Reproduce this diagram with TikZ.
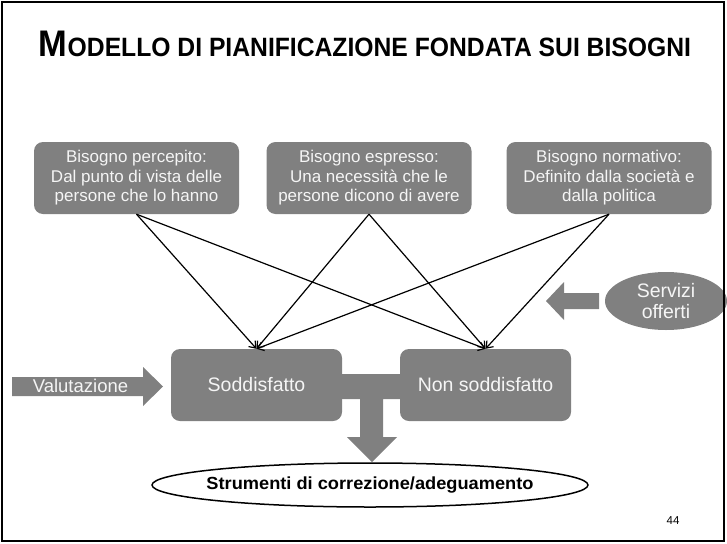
\documentclass[tikz,border=0pt]{standalone}
\usepackage{fontspec}
\setmainfont{Liberation Sans}
\usetikzlibrary{arrows.meta,shapes.geometric}
\definecolor{boxgray}{RGB}{128,128,128}
\definecolor{lighttext}{RGB}{245,245,245}
\tikzset{
  needbox/.style={fill=boxgray, rounded corners=9pt, minimum width=205pt, minimum height=72pt,
    text=lighttext, align=center, font=\fontsize{17}{19.5}\selectfont, inner sep=0pt},
  resbox/.style={fill=boxgray, rounded corners=9pt, minimum width=171pt, minimum height=72pt,
    text=lighttext, font=\fontsize{19.5}{19.5}\selectfont, inner sep=0pt},
  flow/.style={draw=black, line width=1.2pt, -{Straight Barb[length=6pt,width=9pt]}},
  wtext/.style={text=lighttext, font=\fontsize{17}{19.5}\selectfont, inner sep=0pt, align=center},
}
\begin{document}
\begin{tikzpicture}[x=1pt,y=-1pt]
\useasboundingbox (0,0) rectangle (727,543);
\fill[white] (0,0) rectangle (727,543);

\node[anchor=base, inner sep=0pt] (title) at (365,57)
  {\resizebox{652pt}{\height}{\bfseries{\fontsize{37}{37}\selectfont M}{\fontsize{26.5}{26.5}\selectfont ODELLO DI PIANIFICAZIONE FONDATA SUI BISOGNI}}};

\node[needbox] (b1) at (136.5,178) {Bisogno percepito:\\Dal punto di vista delle\\persone che lo hanno};
\node[needbox] (b2) at (369,178) {Bisogno espresso:\\Una necessità che le\\persone dicono di avere};
\node[needbox] (b3) at (609,178) {Bisogno normativo:\\Definito dalla società e\\dalla politica};

\node[resbox] (sod) at (256.5,385) {Soddisfatto};
\node[resbox] (non) at (485.5,385) {Non soddisfatto};

\foreach \s in {b1,b2,b3} {
  \draw[flow] (\s.south) -- (sod.north);
  \draw[flow] (\s.south) -- (non.north);
}

% bar between result boxes and down arrow
\fill[boxgray] (342,374) -- (400,374) -- (400,399) -- (383,399) -- (383,437) -- (397,437)
  -- (372,462) -- (347,437) -- (360,437) -- (360,399) -- (342,399) -- cycle;

\node[draw, line width=1.5pt, ellipse, minimum width=436pt, minimum height=44pt, inner sep=0pt] (tool) at (370,485) {};
\node[inner sep=0pt] (tooltext) at (tool.center)
  {\resizebox{327pt}{\height}{\bfseries\fontsize{17.5}{17.5}\selectfont Strumenti di correzione/adeguamento}};

% Valutazione arrow
\fill[boxgray] (12,377) -- (143,377) -- (143,367) -- (163,386.5) -- (143,406) -- (143,396) -- (12,396) -- cycle;
\node[wtext, font=\fontsize{18.5}{19.5}\selectfont] (val) at (80.5,386) {Valutazione};

% Servizi offerti
\node[ellipse, fill=boxgray, minimum width=122pt, minimum height=58pt, inner sep=0pt] (serv) at (666,301) {};
\node[wtext, font=\fontsize{19.5}{21}\selectfont] (servtext) at (serv.center) {Servizi\\offerti};
\fill[boxgray] (599,293) -- (564,293) -- (564,282) -- (546,301) -- (564,320) -- (564,309) -- (599,309) -- cycle;

\node[font=\fontsize{11.5}{11.5}\selectfont, inner sep=0pt] (pg) at (673,521) {44};

\draw[line width=2pt] (2,2) rectangle (724,541);
\end{tikzpicture}
\end{document}
